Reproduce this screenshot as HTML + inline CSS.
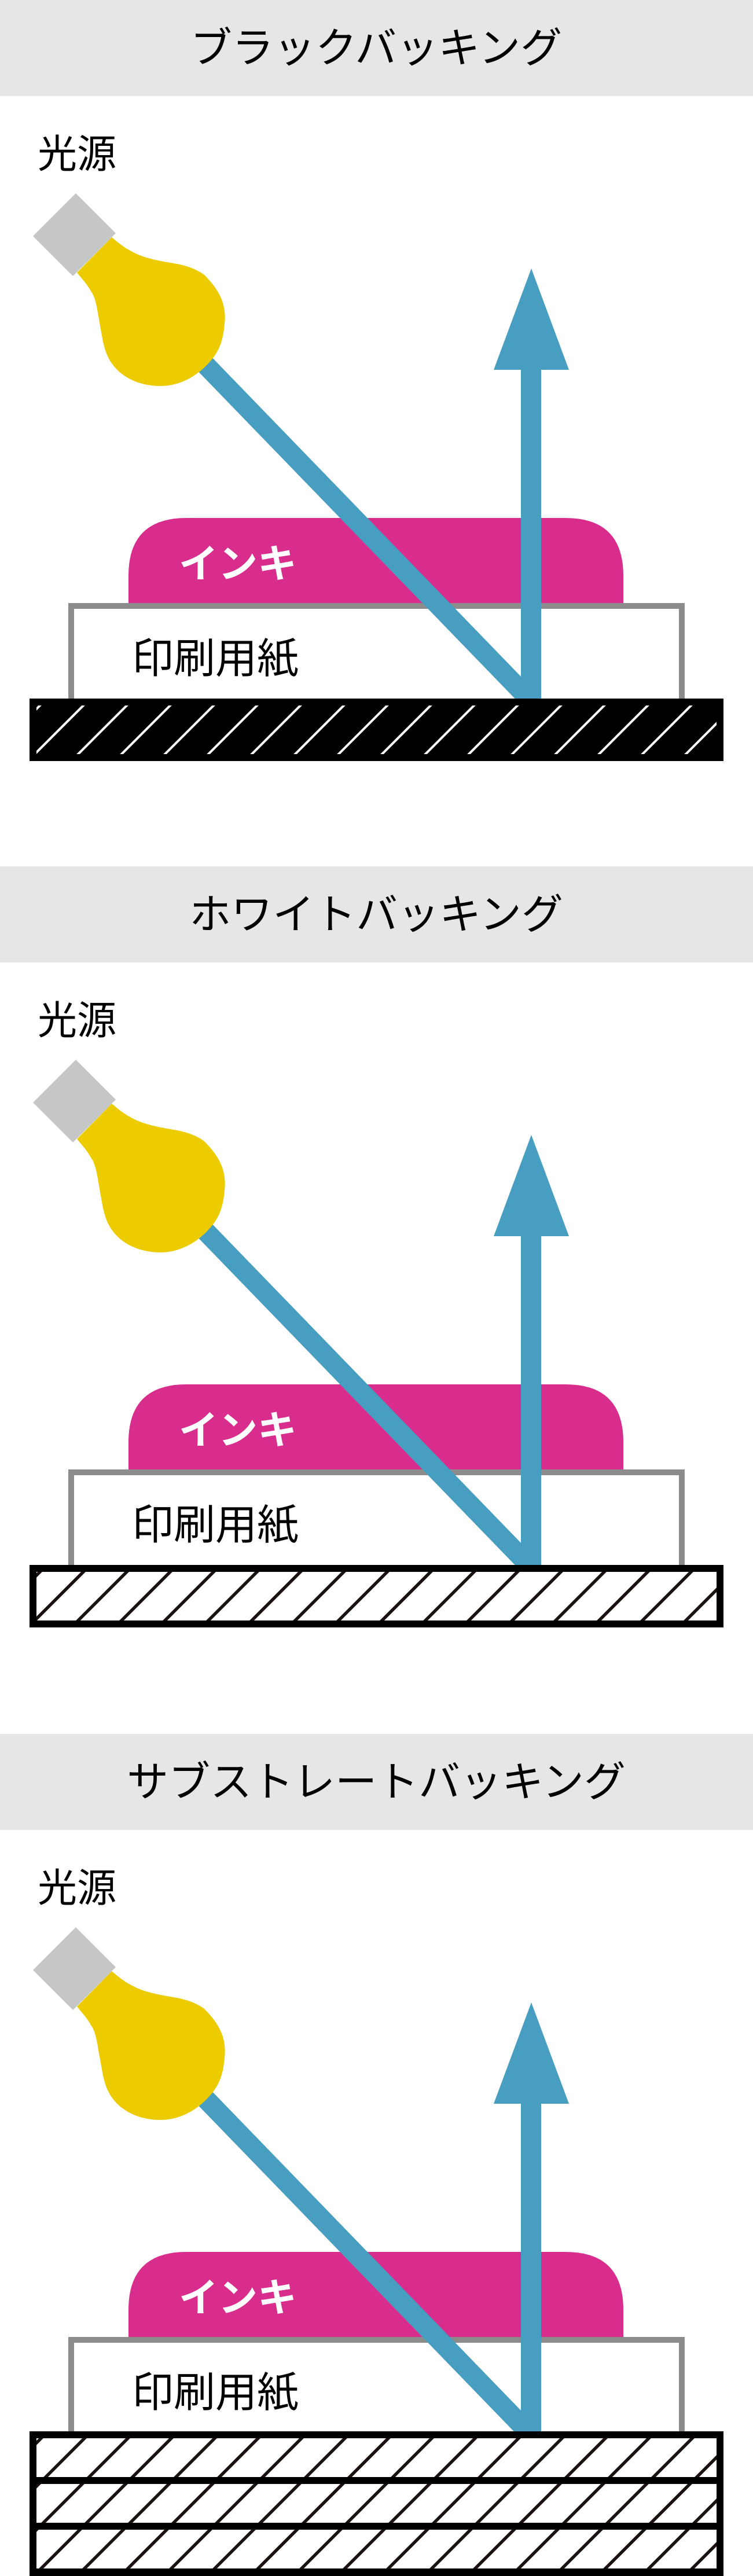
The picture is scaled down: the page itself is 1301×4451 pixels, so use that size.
<!DOCTYPE html>
<html><head><meta charset="utf-8"><style>
html,body{margin:0;padding:0;background:#fff;}
svg{display:block;}
text{font-family:"Liberation Sans","Noto Sans CJK JP",sans-serif;}
</style></head><body>
<svg width="1301" height="4451" viewBox="0 0 1301 4451" xmlns="http://www.w3.org/2000/svg">
<defs>
<pattern id="hw" x="13" y="0" width="75" height="75" patternUnits="userSpaceOnUse"><path d="M0,75 L75,0 M-20,20 L20,-20 M55,95 L95,55" stroke="#fff" stroke-width="4"/></pattern>
<pattern id="hb" x="13" y="0" width="75" height="75" patternUnits="userSpaceOnUse"><path d="M0,75 L75,0 M-20,20 L20,-20 M55,95 L95,55" stroke="#1a1311" stroke-width="5.5"/></pattern>
<g id="common">
  <rect x="0" y="0" width="1301" height="166" fill="#e6e6e6"/>
  <text x="65" y="290" font-size="68" fill="#000">光源</text>
  <path d="M222,1046 V995 Q222,895 322,895 H977 Q1077,895 1077,995 V1046 Z" fill="#d82d8c"/>
  <text x="309" y="998" font-size="68" font-weight="bold" fill="#fff">インキ</text>
  <rect x="123" y="1047" width="1055" height="165" fill="none" stroke="#8c8c8c" stroke-width="10"/>
  <text x="228" y="1163" font-size="72" fill="#000">印刷用紙</text>
  <line x1="345" y1="620" x2="918" y2="1212" stroke="#489ec0" stroke-width="34"/>
  <rect x="900" y="630" width="35" height="585" fill="#489ec0"/>
  <polygon points="918,464 983,639 853,639" fill="#489ec0"/>
  <path d="M193,410 C205,420 215,428 225,433 C245,445 270,450 300,455 C320,458 340,465 353,475 C378,500 392,525 388,560 C385,595 375,612 360,628 C335,655 305,667 277,667 C245,667 215,655 197,633 C180,612 178,590 173,563 C168,535 166,515 157,503 C150,490 140,480 133,471 Z" fill="#eccb00"/>
  <polygon points="131,334 200,403 126,477 57,408" fill="#c5c7c6"/>
</g>
</defs>

<g>
  <use href="#common"/>
  <text x="650" y="108" font-size="72" text-anchor="middle" fill="#000">ブラックバッキング</text>
  <rect x="51" y="1207" width="1199" height="108" fill="#000"/>
  <rect x="63" y="1219" width="1175" height="84" fill="url(#hw)"/>
</g>

<g transform="translate(0,1497)">
  <use href="#common"/>
  <text x="650" y="108" font-size="72" text-anchor="middle" fill="#000">ホワイトバッキング</text>
  <rect x="51" y="1207" width="1199" height="108" fill="#000"/>
  <rect x="63" y="1219" width="1175" height="84" fill="#fff"/>
  <rect x="63" y="1219" width="1175" height="84" fill="url(#hb)"/>
</g>

<g transform="translate(0,2996)">
  <use href="#common"/>
  <text x="650" y="108" font-size="72" text-anchor="middle" fill="#000">サブストレートバッキング</text>
  <rect x="51" y="1205" width="1199" height="250" fill="#000"/>
  <rect x="63" y="1217" width="1175" height="67" fill="#fff"/>
  <rect x="63" y="1217" width="1175" height="67" fill="url(#hb)"/>
  <rect x="63" y="1296" width="1175" height="67" fill="#fff"/>
  <rect x="63" y="1296" width="1175" height="67" fill="url(#hb)"/>
  <rect x="63" y="1375" width="1175" height="67" fill="#fff"/>
  <rect x="63" y="1375" width="1175" height="67" fill="url(#hb)"/>
</g>
</svg>
</body></html>
